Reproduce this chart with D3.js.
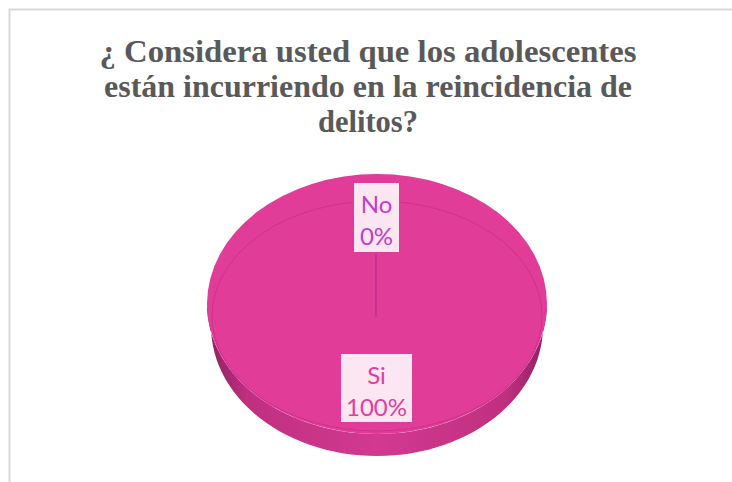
<!DOCTYPE html>
<html><head><meta charset="utf-8">
<script src="https://cdn.jsdelivr.net/npm/d3@7"></script>
<style>body{margin:0;background:#fff}svg{display:block}</style>
</head><body>
<script>
const titleLines = ["¿ Considera usted que los adolescentes", "están incurriendo en la reincidencia de", "delitos?"];
const categories = ["No", "Si"];
const values = [0, 100];
const percentLabels = ["0%", "100%"];

const W = 732, H = 482;
const svg = d3.select("body").append("svg").attr("width", W).attr("height", H);

// frame
svg.append("path").attr("d", `M9.5,${H} V9.5 H${W}`).attr("fill", "none").attr("stroke", "#d9d9d9").attr("stroke-width", 2);

// title
const titleWidths = [537, 528, 100];
const tg = svg.append("g");
titleLines.forEach((t, i) => {
  tg.append("text").attr("x", 368).attr("y", 62 + i * 35)
    .attr("text-anchor", "middle")
    .attr("font-family", "Liberation Serif, Times New Roman, serif")
    .attr("font-weight", "bold").attr("font-size", 32)
    .attr("fill", "#595959")
    .attr("textLength", titleWidths[i]).attr("lengthAdjust", "spacingAndGlyphs")
    .text(t);
});

// pie geometry
const cx = 377, cy = 304, rx = 170, ry = 130, depth = 22;
const defs = svg.append("defs");
const sideGrad = defs.append("linearGradient").attr("id", "side").attr("x1", 0).attr("x2", 1).attr("y1", 0).attr("y2", 0);
[[0, "#8e1f60"], [0.12, "#c0307f"], [0.5, "#d2398f"], [0.88, "#c0307f"], [1, "#8e1f60"]]
  .forEach(([o, c]) => sideGrad.append("stop").attr("offset", o).attr("stop-color", c));

function lowerHalf(yoff, shrink, rev) {
  const pts = [];
  for (let k = 0; k <= 60; k++) {
    const a = Math.PI * k / 60;
    pts.push([cx - (rx - shrink) * Math.cos(a), cy + yoff + ry * Math.sin(a)]);
  }
  return rev ? pts.reverse() : pts;
}
const sidePts = lowerHalf(0, 0, false).concat(lowerHalf(depth, 4, true));
svg.append("path").attr("d", d3.line()(sidePts) + "Z").attr("fill", "url(#side)");

// top face via d3.pie
const pieData = d3.pie().sort(null).startAngle(0).endAngle(2 * Math.PI).value(d => d)(values);
const arcGen = d3.arc().innerRadius(0).outerRadius(1);
const colors = ["#b83aa0", "#e03c98"];
const topFace = svg.append("g").attr("transform", `translate(${cx},${cy}) scale(${rx},${ry})`);
topFace.selectAll("path").data(pieData).join("path")
  .attr("d", arcGen).attr("fill", (d, i) => colors[i]);

// bevel rim line
svg.append("ellipse").attr("cx", cx).attr("cy", cy + 12).attr("rx", rx - 5).attr("ry", ry - 15)
  .attr("fill", "none").attr("stroke", "#c22f84").attr("stroke-width", 1).attr("opacity", 0.7);

// leader line for "No"
svg.append("line").attr("x1", 376).attr("y1", 253).attr("x2", 376).attr("y2", 317)
  .attr("stroke", "#b02f8e").attr("stroke-width", 1.2);

// labels
const labelBoxes = [
  {x: 353, y: 182, w: 47, h: 71, color: "#c23ec8"},
  {x: 340, y: 353, w: 73, h: 70, color: "#e0409a"}
];
categories.forEach((c, i) => {
  const b = labelBoxes[i];
  const g = svg.append("g");
  g.append("rect").attr("x", b.x).attr("y", b.y).attr("width", b.w).attr("height", b.h)
    .attr("fill", "#fbe6f2").attr("stroke", "#e2399a").attr("stroke-width", 2);
  g.append("text").attr("x", b.x + b.w / 2).attr("y", b.y + 31).attr("text-anchor", "middle")
    .attr("font-family", "Lato, Open Sans, sans-serif").attr("font-size", 24).attr("fill", b.color).text(c);
  g.append("text").attr("x", b.x + b.w / 2).attr("y", b.y + 63).attr("text-anchor", "middle")
    .attr("font-family", "Lato, Open Sans, sans-serif").attr("font-size", 24).attr("fill", b.color).text(percentLabels[i]);
});
</script>
</body></html>
